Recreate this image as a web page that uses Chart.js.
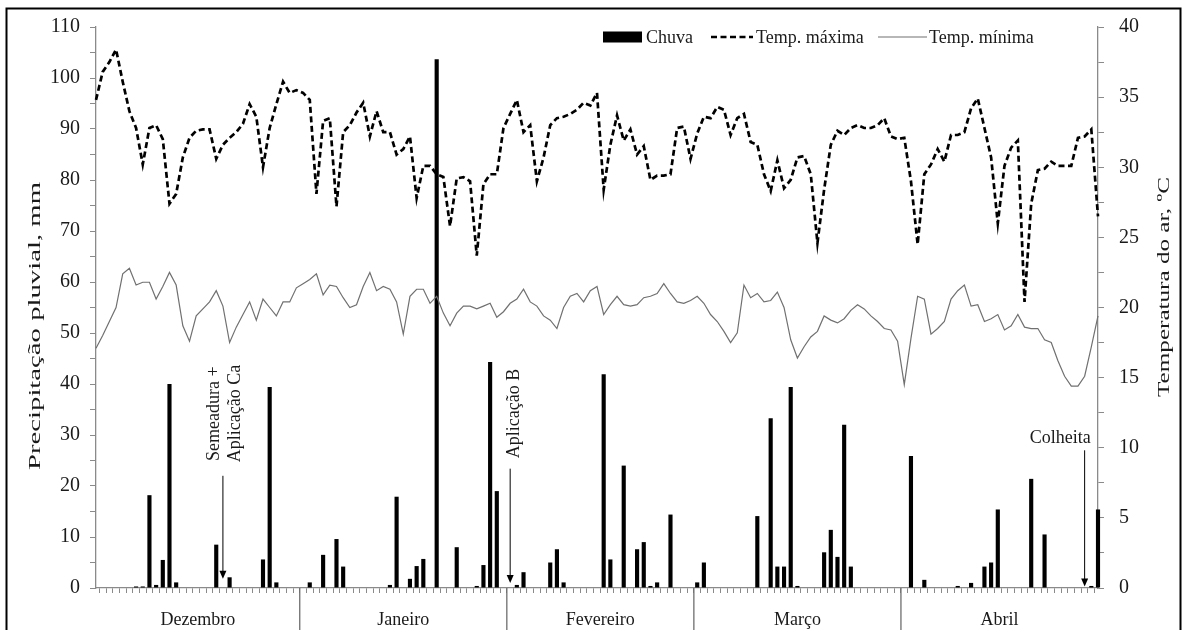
<!DOCTYPE html>
<html>
<head>
<meta charset="utf-8">
<script src="https://cdn.jsdelivr.net/npm/chart.js@4.4.0/dist/chart.umd.min.js"></script>
<style>
  html, body { margin: 0; padding: 0; background: #fff; }
  #wrap { width: 1187px; height: 630px; }
</style>
</head>
<body>
<div id="wrap"><canvas id="chart" width="1187" height="630"></canvas></div>
<script>
// months of the season and their length in days
const months = ['Dezembro', 'Janeiro', 'Fevereiro', 'Março', 'Abril'];
const monthDays = [31, 31, 28, 31, 30];

// daily rainfall, mm (one value per day, Dec 1 .. Apr 30)
const rain = [
    0, 0, 0, 0, 0, 0, 0.3, 0.3, 18.2, 0.6,
    5.5, 40.0, 1.1, 0, 0, 0, 0, 0, 8.5, 0,
    2.1, 0, 0, 0, 0, 5.6, 39.4, 1.1, 0, 0,
    0, 0, 1.1, 0, 6.5, 0, 9.6, 4.2, 0, 0,
    0, 0, 0, 0, 0.6, 17.9, 0, 1.8, 4.3, 5.7,
    0, 103.7, 0, 0, 8.0, 0, 0, 0.4, 4.5, 44.3,
    19.0, 0, 0, 0.6, 3.1, 0, 0, 0, 5.0, 7.6,
    1.1, 0, 0, 0, 0, 0, 41.9, 5.6, 0, 24.0,
    0, 7.6, 9.0, 0.4, 1.1, 0, 14.4, 0, 0, 0,
    1.1, 5.0, 0, 0, 0, 0, 0, 0, 0, 14.1,
    0, 33.3, 4.2, 4.2, 39.4, 0.4, 0, 0, 0, 7.0,
    11.4, 6.1, 32.0, 4.2, 0, 0, 0, 0, 0, 0,
    0, 0, 25.9, 0, 1.6, 0, 0, 0, 0, 0.4,
    0, 1.0, 0, 4.2, 5.0, 15.4, 0, 0, 0, 0,
    21.4, 0, 10.5, 0, 0, 0, 0, 0, 0, 0.4, 15.4
];

// daily maximum air temperature, ºC
const tMax = [
    34.8, 36.8, 37.5, 38.4, 36.1, 34.0, 32.8, 30.2, 32.8, 33.0,
    32.0, 27.4, 28.1, 30.7, 32.1, 32.6, 32.7, 32.7, 30.6, 31.6,
    32.1, 32.5, 33.1, 34.5, 33.6, 30.0, 32.8, 34.5, 36.1, 35.3,
    35.5, 35.3, 34.8, 28.1, 33.3, 33.5, 27.2, 32.5, 33.0, 33.9,
    34.6, 32.2, 34.0, 32.5, 32.5, 30.9, 31.3, 32.2, 27.8, 30.1,
    30.1, 29.5, 29.3, 25.8, 29.2, 29.3, 29.0, 23.7, 28.8, 29.5,
    29.5, 32.8, 33.8, 34.8, 32.5, 33.0, 29.0, 30.7, 33.0, 33.5,
    33.6, 33.8, 34.1, 34.6, 34.4, 35.3, 28.4, 31.6, 33.7, 31.9,
    32.7, 30.9, 31.5, 29.1, 29.4, 29.4, 29.5, 32.8, 32.9, 30.6,
    32.4, 33.6, 33.5, 34.3, 34.1, 32.3, 33.5, 33.8, 31.8, 31.6,
    29.5, 28.3, 30.5, 28.5, 29.1, 30.7, 30.8, 29.5, 24.6, 28.4,
    31.6, 32.6, 32.3, 32.8, 33.0, 32.8, 32.8, 33.0, 33.5, 32.2,
    32.0, 32.1, 29.0, 24.5, 29.5, 30.2, 31.3, 30.4, 32.3, 32.3,
    32.5, 34.2, 34.9, 32.8, 30.7, 26.0, 30.1, 31.4, 31.9, 20.4,
    27.4, 29.8, 29.9, 30.4, 30.1, 30.1, 30.1, 32.1, 32.2, 32.7, 26.5
];

// daily minimum air temperature, ºC
const tMin = [
    17.1, 18.0, 19.0, 20.0, 22.4, 22.8, 21.6, 21.8, 21.8, 20.6,
    21.5, 22.5, 21.6, 18.7, 17.6, 19.4, 19.9, 20.4, 21.2, 20.1,
    17.5, 18.6, 19.5, 20.4, 19.1, 20.6, 20.0, 19.4, 20.4, 20.4,
    21.4, 21.7, 22.0, 22.4, 20.9, 21.6, 21.5, 20.7, 20.0, 20.2,
    21.5, 22.5, 21.2, 21.5, 21.3, 20.4, 18.1, 20.8, 21.3, 21.3,
    20.3, 20.8, 19.6, 18.7, 19.6, 20.1, 20.1, 19.9, 20.1, 20.3,
    19.3, 19.7, 20.3, 20.6, 21.3, 20.4, 20.1, 19.4, 19.1, 18.5,
    20.0, 20.8, 21.0, 20.4, 21.2, 21.5, 19.5, 20.2, 20.8, 20.2,
    20.1, 20.2, 20.7, 20.8, 21.0, 21.7, 21.0, 20.4, 20.3, 20.5,
    20.8, 20.3, 19.5, 19.0, 18.3, 17.5, 18.2, 21.6, 20.7, 21.0,
    20.4, 20.5, 21.1, 20.0, 17.7, 16.4, 17.2, 17.9, 18.3, 19.4,
    19.1, 18.9, 19.2, 19.8, 20.2, 19.9, 19.4, 19.0, 18.5, 18.4,
    17.6, 14.5, 17.8, 20.8, 20.6, 18.1, 18.5, 19.0, 20.6, 21.2,
    21.6, 20.1, 20.2, 19.0, 19.2, 19.5, 18.4, 18.7, 19.5, 18.6,
    18.5, 18.5, 17.7, 17.5, 16.2, 15.1, 14.4, 14.4, 15.1, 17.2, 19.4
];

// field operations: text and day index
const eventLabels = [['Semeadura +', 'Aplicação Ca'], ['Aplicação B'], ['Colheita']];
const eventDays = [19, 62, 148];

const days = [];
monthDays.forEach(n => {
    for (let d = 1; d <= n; d++) days.push(d);
});

const FONT = '"Liberation Serif", "Times New Roman", serif';
const INK = '#1a1a1a';
const AXIS = '#8a8a8a';

function arrow(ctx, x, yTop, yTip) {
    ctx.save();
    ctx.strokeStyle = '#000';
    ctx.fillStyle = '#000';
    ctx.lineWidth = 1;
    ctx.beginPath();
    ctx.moveTo(x, yTop);
    ctx.lineTo(x, yTip - 6);
    ctx.stroke();
    ctx.beginPath();
    ctx.moveTo(x - 3.5, yTip - 8);
    ctx.lineTo(x + 3.5, yTip - 8);
    ctx.lineTo(x, yTip);
    ctx.closePath();
    ctx.fill();
    ctx.restore();
}

function stretchedVertical(ctx, text, cx, cy, length) {
    ctx.save();
    ctx.font = '17px ' + FONT;
    const w = ctx.measureText(text).width;
    ctx.translate(cx, cy);
    ctx.rotate(-Math.PI / 2);
    ctx.scale(length / w, 1);
    ctx.textAlign = 'center';
    ctx.textBaseline = 'middle';
    ctx.fillStyle = INK;
    ctx.fillText(text, 0, 0);
    ctx.restore();
}

const decor = {
    id: 'decor',
    afterDraw(chart) {
        const ctx = chart.ctx;
        const x = chart.scales.x;
        const yP = chart.scales.yP;
        const area = chart.chartArea;

        // outer frame
        ctx.save();
        ctx.strokeStyle = '#000';
        ctx.lineWidth = 2;
        ctx.strokeRect(6.5, 8.5, 1174, 700);
        ctx.restore();

        // month separators and names
        ctx.save();
        ctx.strokeStyle = '#6e6e6e';
        ctx.lineWidth = 1.3;
        ctx.fillStyle = INK;
        ctx.font = '18px ' + FONT;
        ctx.textAlign = 'center';
        ctx.textBaseline = 'alphabetic';
        let start = 0;
        months.forEach((m, i) => {
            const end = start + monthDays[i] - 1;
            const left = start === 0 ? area.left : (x.getPixelForValue(start - 1) + x.getPixelForValue(start)) / 2;
            const right = i === months.length - 1 ? area.right : (x.getPixelForValue(end) + x.getPixelForValue(end + 1)) / 2;
            if (i > 0) {
                ctx.beginPath();
                ctx.moveTo(left, area.bottom);
                ctx.lineTo(left, 640);
                ctx.stroke();
            }
            ctx.fillText(m, (left + right) / 2, 625);
            start = end + 1;
        });
        ctx.restore();

        // field operations
        ctx.save();
        ctx.fillStyle = INK;
        ctx.font = '18px ' + FONT;
        ctx.textAlign = 'center';
        ctx.textBaseline = 'middle';

        let ax = x.getPixelForValue(eventDays[0]);
        arrow(ctx, ax, yP.getPixelForValue(22), yP.getPixelForValue(1.8));
        ctx.save();
        ctx.translate(ax, yP.getPixelForValue(34.2));
        ctx.rotate(-Math.PI / 2);
        ctx.fillText(eventLabels[0][0], 0, -9);
        ctx.fillText(eventLabels[0][1], 0, 12);
        ctx.restore();

        ax = x.getPixelForValue(eventDays[1]);
        arrow(ctx, ax, yP.getPixelForValue(23.4), yP.getPixelForValue(1));
        ctx.save();
        ctx.translate(ax + 4.5, yP.getPixelForValue(34.2));
        ctx.rotate(-Math.PI / 2);
        ctx.fillText(eventLabels[1][0], 0, 0);
        ctx.restore();

        ax = x.getPixelForValue(eventDays[2]);
        arrow(ctx, ax, yP.getPixelForValue(27), yP.getPixelForValue(0.3));
        ctx.textAlign = 'right';
        ctx.textBaseline = 'alphabetic';
        ctx.fillText(eventLabels[2][0], ax + 6, 443);
        ctx.restore();

        // legend
        ctx.save();
        ctx.font = '18px ' + FONT;
        ctx.textBaseline = 'alphabetic';
        ctx.fillStyle = '#000';
        ctx.fillRect(603, 31.5, 39, 11);
        ctx.fillStyle = INK;
        ctx.fillText(chart.data.datasets[2].label, 646, 42.5);
        ctx.strokeStyle = '#000';
        ctx.lineWidth = 2.6;
        ctx.setLineDash([6, 3.5]);
        ctx.beginPath();
        ctx.moveTo(711, 37);
        ctx.lineTo(753, 37);
        ctx.stroke();
        ctx.fillText(chart.data.datasets[0].label, 756, 42.5);
        ctx.setLineDash([]);
        ctx.strokeStyle = '#707070';
        ctx.lineWidth = 1.2;
        ctx.beginPath();
        ctx.moveTo(878, 37);
        ctx.lineTo(927, 37);
        ctx.stroke();
        ctx.fillText(chart.data.datasets[1].label, 929, 42.5);
        ctx.restore();

        // axis titles
        stretchedVertical(ctx, 'Precipitação pluvial, mm', 36, 326, 288);
        stretchedVertical(ctx, 'Temperatura do ar, ºC', 1165, 287, 220);
    }
};

Chart.defaults.font.family = FONT;
Chart.defaults.color = INK;

new Chart(document.getElementById('chart'), {
    data: {
        labels: days,
        datasets: [
            {
                type: 'line',
                label: 'Temp. máxima',
                data: tMax,
                yAxisID: 'yT',
                borderColor: '#000',
                borderWidth: 2.7,
                borderDash: [6, 3.5],
                pointRadius: 0,
                tension: 0,
                clip: false,
                order: 1
            },
            {
                type: 'line',
                label: 'Temp. mínima',
                data: tMin,
                yAxisID: 'yT',
                borderColor: '#707070',
                borderWidth: 1.2,
                pointRadius: 0,
                tension: 0,
                clip: false,
                order: 2
            },
            {
                type: 'bar',
                label: 'Chuva',
                data: rain,
                yAxisID: 'yP',
                backgroundColor: '#000',
                barPercentage: 0.62,
                categoryPercentage: 1,
                clip: false,
                order: 3
            }
        ]
    },
    options: {
        responsive: false,
        animation: false,
        layout: { padding: { top: 17, left: 0, right: 0, bottom: 0 } },
        plugins: {
            legend: { display: false },
            tooltip: { enabled: false }
        },
        scales: {
            x: {
                offset: false,
                grid: { drawOnChartArea: false, tickLength: 5, color: AXIS },
                border: { color: AXIS, width: 1.3 },
                ticks: { display: false, autoSkip: false },
                afterFit(scale) { scale.height = 42; }
            },
            yP: {
                position: 'left',
                min: 0,
                max: 110,
                ticks: {
                    stepSize: 5,
                    autoSkip: false,
                    callback: v => (v % 10 === 0 ? v : ''),
                    font: { size: 20 },
                    color: INK,
                    padding: 10
                },
                grid: { drawOnChartArea: false, tickLength: 6, color: AXIS },
                border: { color: AXIS, width: 1.3 },
                afterFit(scale) { scale.width = 96; }
            },
            yT: {
                position: 'right',
                min: 0,
                max: 40,
                ticks: {
                    stepSize: 2.5,
                    autoSkip: false,
                    callback: v => (v % 5 === 0 ? v : ''),
                    font: { size: 20 },
                    color: INK,
                    padding: 15
                },
                grid: { drawOnChartArea: false, tickLength: 6, color: AXIS },
                border: { color: AXIS, width: 1.3 },
                afterFit(scale) { scale.width = 89; }
            }
        }
    },
    plugins: [decor]
});
</script>
</body>
</html>
